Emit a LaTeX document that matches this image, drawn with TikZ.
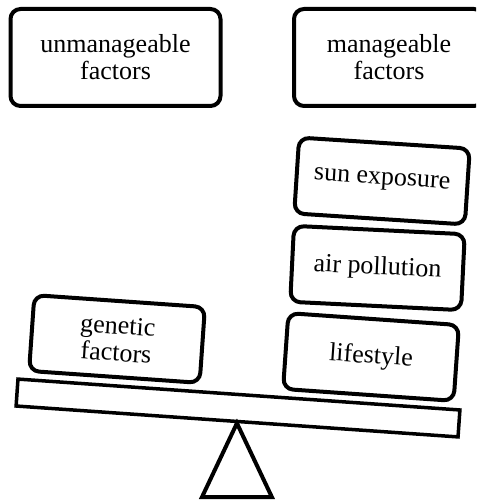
\documentclass[tikz,border=0pt]{standalone}
\usepackage{fontspec}
\setmainfont{Liberation Serif}
\usepackage{tikz}

\begin{document}
\begin{tikzpicture}[x=1pt,y=1pt,
    box/.style={draw,line width=4pt,rounded corners=10pt,align=center,
      font=\fontsize{26}{27}\selectfont,inner sep=0pt},
    bigbox/.style={box,minimum width=210pt,minimum height=97pt},
    weight/.style={box,minimum width=171pt,minimum height=76pt,rotate=-4}]
    \useasboundingbox (0,0) rectangle (476,500);
    \clip (0,0) rectangle (476,500);
    \node[bigbox] (unman) at (115.5,442.5) {unmanageable\\factors};
    \node[bigbox,minimum width=190pt] (man) at (389,442.5) {manageable\\factors};

    \node[draw,line width=3.5pt,minimum width=443pt,minimum height=27pt,
      rotate=-4] (beam) at (238,92) {};
    \draw[line width=4pt] (beam.south) -- ++(-35,-74) -- ++(70,0) -- cycle;

    \node[weight] (genetic) at (117,161) {genetic\\factors};
    \node[weight] (lifestyle) at (371,143) {lifestyle};
    \node[weight,rotate=1.2] (air) at (377.5,232) {air pollution};
    \node[weight,rotate=0.3] (sun) at (382,319) {sun exposure};
\end{tikzpicture}
\end{document}
